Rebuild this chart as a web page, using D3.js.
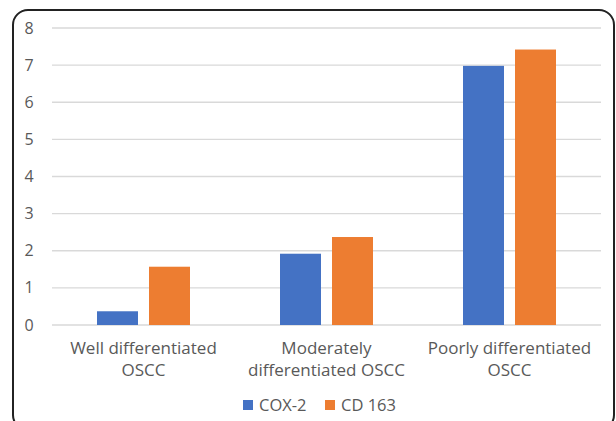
<!DOCTYPE html>
<html>
<head>
<meta charset="utf-8">
<script src="https://d3js.org/d3.v7.min.js"></script>
<style>
  body { margin: 0; background: #fff; }
  svg text { font-family: "Open Sans", "Liberation Sans", sans-serif; fill: #595959; }
</style>
</head>
<body>
<div id="chart"></div>
<script>
// data
var categories = [["Well differentiated", "OSCC"], ["Moderately", "differentiated OSCC"], ["Poorly differentiated", "OSCC"]];
var seriesNames = ["COX-2", "CD 163"];
var cox2 = [0.37, 1.92, 6.98];
var cd163 = [1.57, 2.37, 7.42];
var yTicks = [0, 1, 2, 3, 4, 5, 6, 7, 8];
var colors = ["#4472C4", "#ED7D31"];

var width = 616, height = 421;
var svg = d3.select("#chart").append("svg")
    .attr("width", width)
    .attr("height", height);

// rounded frame
svg.append("rect")
    .attr("x", 13).attr("y", 10)
    .attr("width", 601).attr("height", 420)
    .attr("rx", 15).attr("ry", 15)
    .attr("fill", "#fff")
    .attr("stroke", "#222")
    .attr("stroke-width", 2);

var plotLeft = 52, plotRight = 601, plotTop = 28, plotBottom = 325;

var x = d3.scaleBand()
    .domain(d3.range(categories.length))
    .range([plotLeft, plotRight]);

var y = d3.scaleLinear()
    .domain([0, 8])
    .range([plotBottom, plotTop]);

// gridlines
svg.append("g")
    .selectAll("line")
    .data(yTicks)
    .enter()
    .append("line")
    .attr("x1", plotLeft).attr("x2", plotRight)
    .attr("y1", function(d) { return y(d); })
    .attr("y2", function(d) { return y(d); })
    .attr("stroke", "#d9d9d9")
    .attr("stroke-width", 1.3);

// y tick labels
svg.append("g")
    .selectAll("text")
    .data(yTicks)
    .enter()
    .append("text")
    .attr("x", 29)
    .attr("y", function(d) { return y(d); })
    .attr("dy", "0.35em")
    .attr("text-anchor", "middle")
    .style("font-size", "16px")
    .text(function(d) { return d; });

// bars
var barW = 41, gap = 11;
var series = [cox2, cd163];
series.forEach(function(vals, s) {
    svg.append("g")
        .selectAll("rect")
        .data(vals)
        .enter()
        .append("rect")
        .attr("x", function(d, i) {
            var c = x(i) + x.bandwidth() / 2;
            return s === 0 ? c - gap / 2 - barW : c + gap / 2;
        })
        .attr("y", function(d) { return y(d); })
        .attr("width", barW)
        .attr("height", function(d) { return y(0) - y(d); })
        .attr("fill", colors[s]);
});

// category labels
var cat = svg.append("g")
    .selectAll("text")
    .data(categories)
    .enter()
    .append("text")
    .attr("text-anchor", "middle")
    .style("font-size", "17px");
cat.each(function(lines, i) {
    var t = d3.select(this);
    lines.forEach(function(line, k) {
        t.append("tspan")
            .attr("x", x(i) + x.bandwidth() / 2)
            .attr("y", 354 + k * 22)
            .text(line);
    });
});

// legend
var legendX = [243, 325];
seriesNames.forEach(function(name, s) {
    svg.append("rect")
        .attr("x", legendX[s]).attr("y", 400)
        .attr("width", 10).attr("height", 10)
        .attr("fill", colors[s]);
    svg.append("text")
        .attr("x", legendX[s] + 16)
        .attr("y", 405)
        .attr("dy", "0.35em")
        .style("font-size", "16.5px")
        .text(name);
});
</script>
</body>
</html>
